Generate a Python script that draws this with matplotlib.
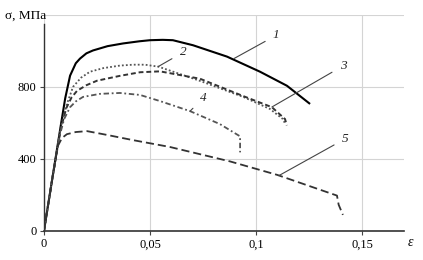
import matplotlib.pyplot as plt

plt.rcParams['font.family'] = ['Liberation Serif', 'DejaVu Serif']

# strain / stress curves
eps1 = [0, 0.004, 0.008, 0.010, 0.0123, 0.015, 0.017, 0.020, 0.0231, 0.030, 0.0373,
        0.045, 0.050, 0.056, 0.0608, 0.0703, 0.0863, 0.1019, 0.1146, 0.1255]
sig1 = [0, 295, 590, 735, 861, 930, 956, 985, 1001, 1025, 1040,
        1052, 1058, 1060, 1058, 1030, 967, 883, 805, 704]

eps2 = [0, 0.004, 0.008, 0.0108, 0.0137, 0.0175, 0.0217, 0.028, 0.0358, 0.042,
        0.0476, 0.054, 0.0736, 0.094, 0.1066, 0.1127, 0.1135]
sig2 = [0, 295, 580, 703, 799, 850, 883, 903, 917, 922,
        922, 911, 832, 743, 676, 620, 600]

eps3 = [0, 0.004, 0.008, 0.0105, 0.013, 0.0156, 0.020, 0.025, 0.0358, 0.0453,
        0.0547, 0.0736, 0.0939, 0.1075, 0.1137, 0.1145]
sig3 = [0, 295, 570, 680, 740, 777, 808, 833, 860, 880,
        885, 844, 748, 686, 620, 585]

eps4 = [0, 0.004, 0.007, 0.0095, 0.0123, 0.015, 0.0184, 0.0264, 0.0358, 0.0453,
        0.0547, 0.0689, 0.083, 0.0925, 0.0925]
sig4 = [0, 295, 510, 620, 686, 718, 743, 760, 765, 754,
        720, 664, 592, 524, 435]

eps5 = [0, 0.004, 0.0065, 0.0085, 0.0108, 0.015, 0.0203, 0.0297, 0.042, 0.0594,
        0.0877, 0.110, 0.1382, 0.139, 0.141]
sig5 = [0, 295, 470, 515, 536, 548, 553, 532, 503, 465,
        385, 310, 195, 144, 88]

x_ticks = [0, 0.05, 0.1, 0.15]
x_tick_labels = ['0', '0,05', '0,1', '0,15']
y_ticks = [0, 400, 800]
y_tick_labels = ['0', '400', '800']

fig = plt.figure(figsize=(4.23, 2.60), dpi=100)
ax = fig.add_axes([0.104, 0.1127, 0.852, 0.831])

ax.plot(eps1, sig1, color='black', lw=1.5, solid_capstyle='butt')
ax.plot(eps2, sig2, color='#555555', lw=1.3, linestyle=(0, (1, 1.2)))
ax.plot(eps3, sig3, color='#333333', lw=1.4, linestyle=(0, (2.5, 1.5)))
ax.plot(eps4, sig4, color='#555555', lw=1.3, linestyle=(0, (3, 1.5, 1, 1.5)))
ax.plot(eps5, sig5, color='#333333', lw=1.3, linestyle=(0, (4.5, 2.2)))

# curve numbers with leader lines
labels = [
    ('1', (0.0896, 956), (0.1095, 1085)),
    ('2', (0.0538, 911), (0.0655, 990)),
    ('3', (0.1075, 687), (0.1410, 915)),
    ('4', (0.0689, 664), (0.0750, 735)),
    ('5', (0.1108, 306), (0.1420, 510)),
]
for txt, xy, xytext in labels:
    ax.annotate(txt, xy=xy, xytext=xytext, fontsize=9.5, style='italic',
                ha='center', va='center', color='#222222',
                arrowprops=dict(arrowstyle='-', color='#444444', lw=0.8,
                                shrinkA=4, shrinkB=0))

ax.set_xlim(0, 0.17)
ax.set_ylim(0, 1200)
ax.set_xticks(x_ticks)
ax.set_xticklabels(x_tick_labels)
ax.set_yticks(y_ticks)
ax.set_yticklabels(y_tick_labels)
ax.set_yticks([1200], minor=True)
ax.tick_params(axis='both', labelsize=9, length=3, width=0.8, color='#444444', pad=2.5)
ax.tick_params(axis='y', which='minor', length=0)

ax.grid(True, which='both', color='#d4d4d4', lw=0.8)
ax.set_axisbelow(True)

ax.spines['right'].set_visible(False)
ax.spines['top'].set_visible(False)
ax.spines['left'].set_color('#333333')
ax.spines['left'].set_linewidth(1.0)
ax.spines['left'].set_bounds(0, 1150)
ax.spines['bottom'].set_color('#333333')
ax.spines['bottom'].set_linewidth(1.2)

fig.text(5 / 423, 1 - 16 / 260, 'σ, МПа', fontsize=9.5, ha='left', va='center')
fig.text(410 / 423, 1 - 243 / 260, 'ε', fontsize=10, style='italic', ha='center', va='center')

plt.savefig('out.png', dpi=100)
